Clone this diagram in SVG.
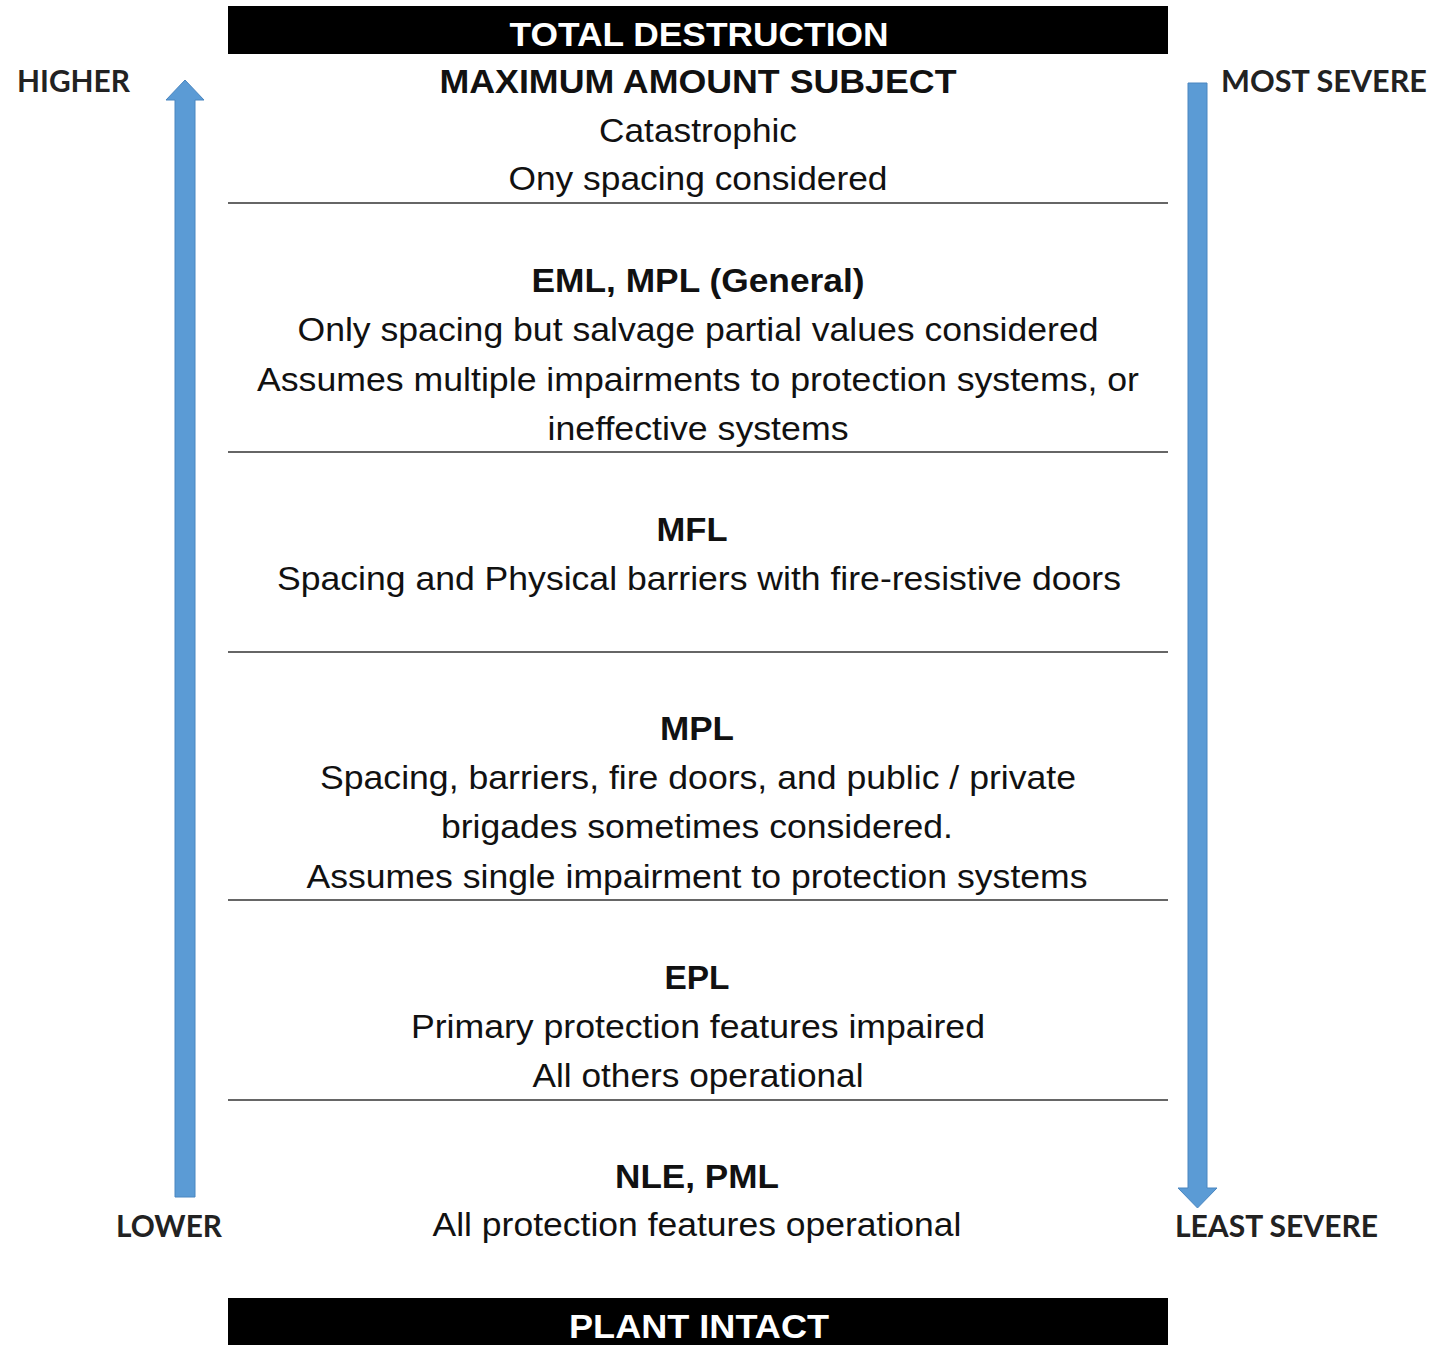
<svg xmlns="http://www.w3.org/2000/svg" width="1433" height="1345" viewBox="0 0 1433 1345">
<style>
.t{font-family:"Liberation Sans",Arial,sans-serif;font-size:34px;fill:#111;text-anchor:middle}
.b{font-weight:bold}
.w{fill:#fff;font-weight:bold}
.side{font-family:"Lato","Open Sans",sans-serif;font-weight:bold;font-size:30px;fill:#222}
.sep{stroke:#666;stroke-width:2}
.arr{fill:#5b9bd5;stroke:#4a86c0;stroke-width:1}
</style>
<rect width="1433" height="1345" fill="#fff"/>
<g id="bars">
<rect x="228" y="6" width="940" height="48" fill="#000"/>
<rect x="228" y="1298" width="940" height="47" fill="#000"/>
<text class="t w" x="699" y="46" textLength="379" lengthAdjust="spacingAndGlyphs">TOTAL DESTRUCTION</text>
<text class="t w" x="699" y="1338" textLength="260" lengthAdjust="spacingAndGlyphs">PLANT INTACT</text>
</g>
<g id="connectors">
<polygon class="arr" points="185,80 204,100 195,100 195,1197 175,1197 175,100 166,100"/>
<polygon class="arr" points="1188,83 1207,83 1207,1188 1217,1188 1197.5,1208 1178,1188 1188,1188"/>
<line class="sep" x1="228" y1="203" x2="1168" y2="203"/>
<line class="sep" x1="228" y1="452" x2="1168" y2="452"/>
<line class="sep" x1="228" y1="652" x2="1168" y2="652"/>
<line class="sep" x1="228" y1="900" x2="1168" y2="900"/>
<line class="sep" x1="228" y1="1100" x2="1168" y2="1100"/>
</g>
<g id="labels">
<text class="side" x="17" y="92" textLength="113" lengthAdjust="spacingAndGlyphs">HIGHER</text>
<text class="side" x="116" y="1237" textLength="106" lengthAdjust="spacingAndGlyphs">LOWER</text>
<text class="side" x="1221" y="92" textLength="206" lengthAdjust="spacingAndGlyphs">MOST SEVERE</text>
<text class="side" x="1175" y="1237" textLength="203" lengthAdjust="spacingAndGlyphs">LEAST SEVERE</text>
</g>
<g id="n1">
<text class="t b" x="698" y="93" textLength="517" lengthAdjust="spacingAndGlyphs">MAXIMUM AMOUNT SUBJECT</text>
<text class="t" x="698" y="142" textLength="198" lengthAdjust="spacingAndGlyphs">Catastrophic</text>
<text class="t" x="698" y="190" textLength="379" lengthAdjust="spacingAndGlyphs">Ony spacing considered</text>
</g>
<g id="n2">
<text class="t b" x="698" y="292" textLength="333" lengthAdjust="spacingAndGlyphs">EML, MPL (General)</text>
<text class="t" x="698" y="341" textLength="801" lengthAdjust="spacingAndGlyphs">Only spacing but salvage partial values considered</text>
<text class="t" x="698" y="391" textLength="882" lengthAdjust="spacingAndGlyphs">Assumes multiple impairments to protection systems, or</text>
<text class="t" x="698" y="440" textLength="301" lengthAdjust="spacingAndGlyphs">ineffective systems</text>
</g>
<g id="n3">
<text class="t b" x="692" y="541" textLength="71" lengthAdjust="spacingAndGlyphs">MFL</text>
<text class="t" x="699" y="590" textLength="844" lengthAdjust="spacingAndGlyphs">Spacing and Physical barriers with fire-resistive doors</text>
</g>
<g id="n4">
<text class="t b" x="697" y="740" textLength="74" lengthAdjust="spacingAndGlyphs">MPL</text>
<text class="t" x="698" y="789" textLength="756" lengthAdjust="spacingAndGlyphs">Spacing, barriers, fire doors, and public / private</text>
<text class="t" x="697" y="838" textLength="512" lengthAdjust="spacingAndGlyphs">brigades sometimes considered.</text>
<text class="t" x="697" y="888" textLength="781" lengthAdjust="spacingAndGlyphs">Assumes single impairment to protection systems</text>
</g>
<g id="n5">
<text class="t b" x="697" y="989" textLength="65" lengthAdjust="spacingAndGlyphs">EPL</text>
<text class="t" x="698" y="1038" textLength="574" lengthAdjust="spacingAndGlyphs">Primary protection features impaired</text>
<text class="t" x="698" y="1087" textLength="331" lengthAdjust="spacingAndGlyphs">All others operational</text>
</g>
<g id="n6">
<text class="t b" x="697" y="1188" textLength="164" lengthAdjust="spacingAndGlyphs">NLE, PML</text>
<text class="t" x="697" y="1236" textLength="529" lengthAdjust="spacingAndGlyphs">All protection features operational</text>
</g>
</svg>
